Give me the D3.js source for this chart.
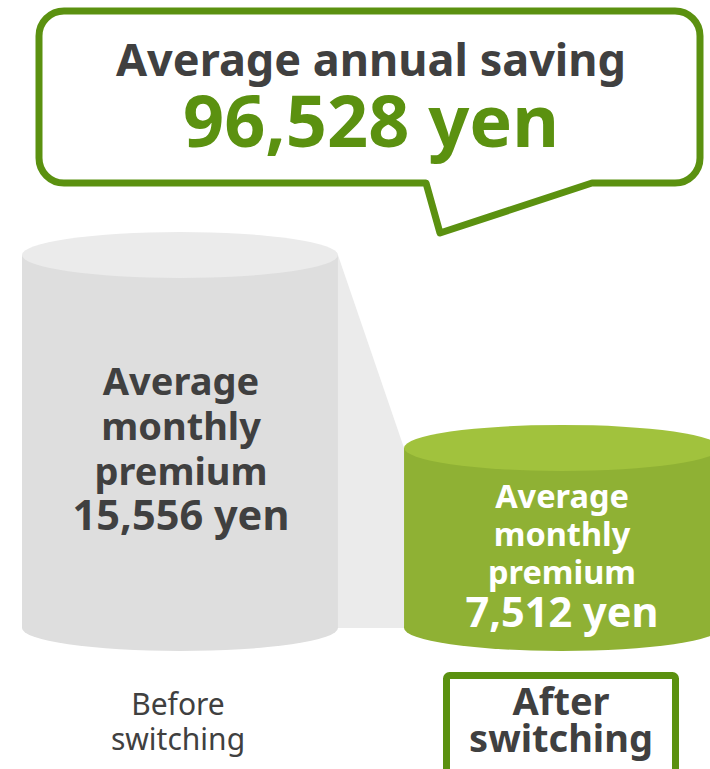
<!DOCTYPE html>
<html>
<head>
<meta charset="utf-8">
<script src="https://cdn.jsdelivr.net/npm/d3@7"></script>
<style>
  html, body { margin: 0; padding: 0; background: #ffffff; }
  svg { display: block; }
</style>
</head>
<body>
<svg id="chart" width="710" height="769"></svg>
<script>
// ---- data ----
const categories = ["Before switching", "After switching"];
const monthlyPremium = [15556, 7512];
const annualSaving = 96528;
const cylinderLabels = [
  ["Average", "monthly", "premium", "15,556 yen"],
  ["Average", "monthly", "premium", "7,512 yen"]
];
const headline = "Average annual saving";
const categoryLines = [["Before", "switching"], ["After", "switching"]];

// ---- setup ----
const svg = d3.select("#chart");
const FONT = "'Noto Sans', 'Open Sans', sans-serif";
const DARK = "#404040";
const GREEN = "#5b9110";

const x = d3.scaleBand().domain(categories).range([22, 720]).paddingInner(0.173).paddingOuter(0);
const y = d3.scaleLinear().domain([0, d3.max(monthlyPremium)]).range([628, 255]);
const ry = 23;

const bodyColors = ["#dedede", "#8fb134"];
const topColors = ["#ebebeb", "#a1c23d"];

// connecting band
const g0 = categories[0], g1 = categories[1];
const bandPts = [
  [x(g0) + x.bandwidth(), y(monthlyPremium[0])],
  [x(g1), y(monthlyPremium[1])],
  [x(g1), y(0)],
  [x(g0) + x.bandwidth(), y(0)]
];
svg.append("polygon")
  .attr("points", bandPts.map(p => p.join(",")).join(" "))
  .attr("fill", "#ebebeb");

// cylinders
const cyl = svg.selectAll("g.cyl")
  .data(categories.map((c, i) => ({ c, v: monthlyPremium[i], i })))
  .enter().append("g").attr("class", "cyl");

cyl.append("ellipse")
  .attr("cx", d => x(d.c) + x.bandwidth() / 2)
  .attr("cy", y(0))
  .attr("rx", x.bandwidth() / 2)
  .attr("ry", ry)
  .attr("fill", d => bodyColors[d.i]);

cyl.append("rect")
  .attr("x", d => x(d.c))
  .attr("y", d => y(d.v))
  .attr("width", x.bandwidth())
  .attr("height", d => y(0) - y(d.v))
  .attr("fill", d => bodyColors[d.i]);

cyl.append("ellipse")
  .attr("cx", d => x(d.c) + x.bandwidth() / 2)
  .attr("cy", d => y(d.v))
  .attr("rx", x.bandwidth() / 2)
  .attr("ry", ry)
  .attr("fill", d => topColors[d.i]);

// multi-line text helper (one text element, tspans per line)
function multiline(cx, baselines, sizes, lines, color, weight) {
  const t = svg.append("text")
    .attr("text-anchor", "middle")
    .attr("font-family", FONT)
    .attr("font-weight", weight)
    .attr("fill", color);
  lines.forEach((s, j) => {
    t.append("tspan")
      .attr("x", cx)
      .attr("y", baselines[j])
      .attr("font-size", sizes[j])
      .text(s);
  });
}

// cylinder labels
multiline(181, [395, 440, 485, 530], [38, 38, 38, 41.5], cylinderLabels[0], DARK, "bold");
multiline(562, [508, 546, 584, 627], [32.5, 32.5, 32.5, 41.5], cylinderLabels[1], "#ffffff", "bold");

// speech bubble
const bx0 = 39, bx1 = 700, by0 = 11, by1 = 183, r = 25;
const p = d3.path();
p.moveTo(bx0 + r, by0);
p.lineTo(bx1 - r, by0);
p.arcTo(bx1, by0, bx1, by0 + r, r);
p.lineTo(bx1, by1 - r);
p.arcTo(bx1, by1, bx1 - r, by1, r);
p.lineTo(592, by1);
p.lineTo(440, 233);
p.lineTo(426, by1);
p.lineTo(bx0 + r, by1);
p.arcTo(bx0, by1, bx0, by1 - r, r);
p.lineTo(bx0, by0 + r);
p.arcTo(bx0, by0, bx0 + r, by0, r);
p.closePath();
svg.append("path")
  .attr("d", p.toString())
  .attr("fill", "#ffffff")
  .attr("stroke", GREEN)
  .attr("stroke-width", 7)
  .attr("stroke-linejoin", "round");

multiline(371, [76, 147], [45, 72], [headline, d3.format(",")(annualSaving) + " yen"], DARK, "bold");
// colour the amount line green
svg.selectAll("text").filter(function() { return this.textContent.startsWith(headline); })
  .select("tspan:nth-child(2)").attr("fill", GREEN);

// category labels
multiline(178, [715, 750], [30, 30], categoryLines[0], DARK, "normal");

svg.append("rect")
  .attr("x", 446.5).attr("y", 675.5)
  .attr("width", 229).attr("height", 110)
  .attr("rx", 3)
  .attr("fill", "#ffffff")
  .attr("stroke", GREEN)
  .attr("stroke-width", 7);

multiline(561, [715, 752], [38, 38], categoryLines[1], DARK, "bold");
</script>
</body>
</html>
